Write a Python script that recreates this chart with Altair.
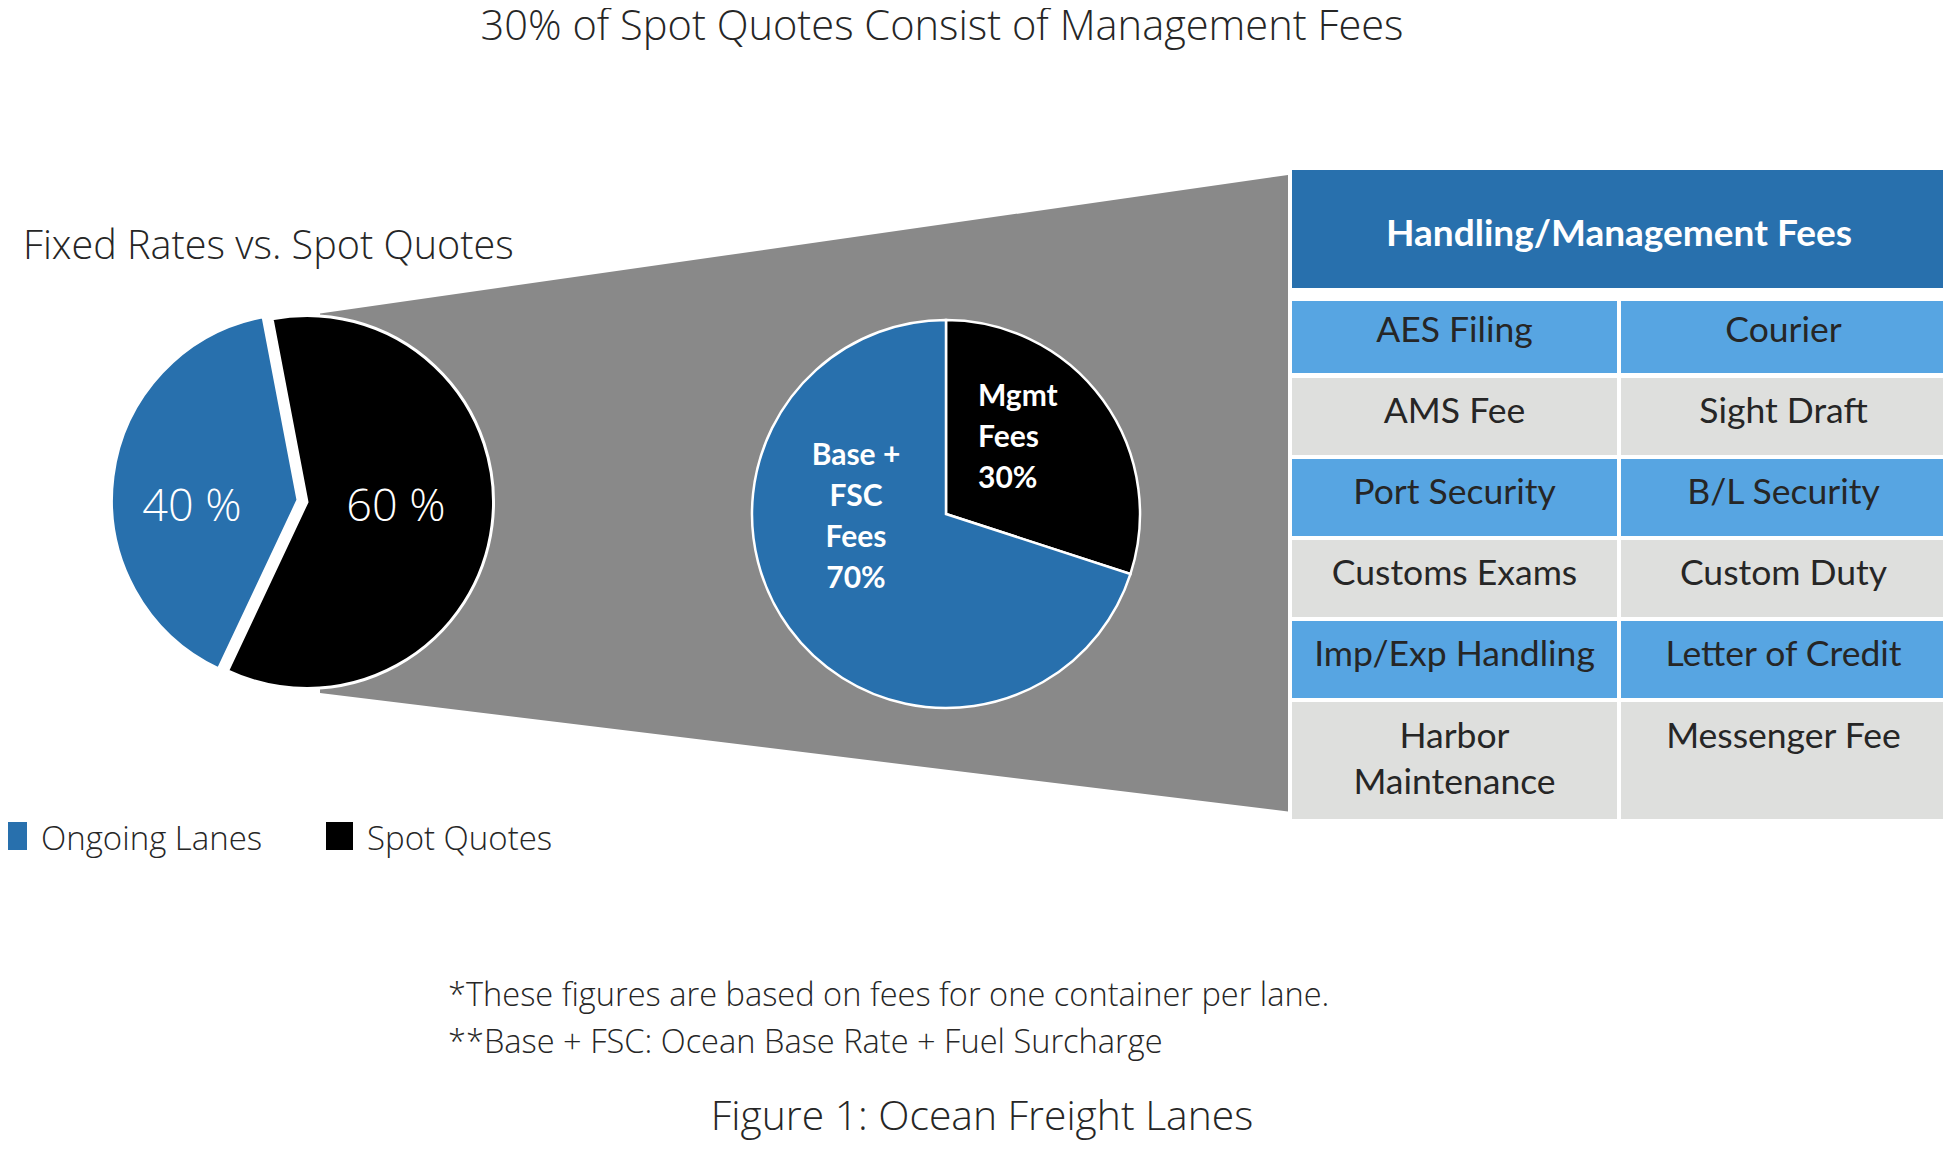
import altair as alt
import pandas as pd

# ---------------- data ----------------
title_text = "30% of Spot Quotes Consist of Management Fees"
pie1_title = "Fixed Rates vs. Spot Quotes"
pie1_cats = ["Spot Quotes", "Ongoing Lanes"]
pie1_vals = [60, 40]
pie1_text = ["60 %", "40 %"]
pie2_cats = ["Mgmt Fees", "Base + FSC Fees"]
pie2_vals = [30, 70]
pie2_text = ["Mgmt\nFees\n30%", "Base +\nFSC\nFees\n70%"]
table_title = "Handling/Management Fees"
table_col1 = ["AES Filing", "AMS Fee", "Port Security", "Customs Exams",
              "Imp/Exp Handling", "Harbor\nMaintenance"]
table_col2 = ["Courier", "Sight Draft", "B/L Security", "Custom Duty",
              "Letter of Credit", "Messenger Fee"]
legend_labels = ["Ongoing Lanes", "Spot Quotes"]
notes = ["*These figures are based on fees for one container per lane.",
         "**Base + FSC: Ocean Base Rate + Fuel Surcharge"]
caption = "Figure 1: Ocean Freight Lanes"

# ---------------- style / layout ----------------
W, H = 1935, 1135
M = 8


def px(v):
    return v - M


BLUE = "#2870AD"
BLACK = "#000000"
LBLUE = "#57A5E2"
LGREY = "#DEDFDD"
FUNNEL = "#898989"
TXT = "#262626"
THIN = "Open Sans"
THIN_W = 300
CAL = "Lato"

fill_domain = pie1_cats + pie2_cats + ["head", "blue", "grey"]
fill_range = [BLACK, BLUE, BLACK, BLUE, BLUE, LBLUE, LGREY]
fscale = alt.Scale(domain=fill_domain, range=fill_range)
xs = alt.Scale(domain=[0, W], range=[0, W], nice=False, zero=False)
ys = alt.Scale(domain=[0, H], range=[0, H], nice=False, zero=False)

layers = []

# funnel (decorative connector)
funnel = pd.DataFrame({"x": [px(320), px(1288)],
                       "y": [px(313.4), px(175)],
                       "y2": [px(693), px(811.5)]})
layers.append(alt.Chart(funnel).mark_area(color=FUNNEL, opacity=1).encode(
    x=alt.X("x:Q", scale=xs, axis=None),
    y=alt.Y("y:Q", scale=ys, axis=None),
    y2="y2:Q"))


def pie_base(vals, cats, start):
    df = pd.DataFrame({"cat": cats, "value": vals, "order": list(range(len(vals)))})
    return (alt.Chart(df)
            .transform_joinaggregate(total="sum(value)")
            .transform_window(cum="sum(value)", sort=[alt.SortField("order")], frame=[None, 0])
            .transform_calculate(t1=f"{start} + 2*PI*datum.cum/datum.total")
            .transform_calculate(t0="datum.t1 - 2*PI*datum.value/datum.total"))


# left pie (exploded slices)
S1 = -0.1885
R1 = 186.5
pie1_centers = {"Spot Quotes": (307, 502), "Ongoing Lanes": (298, 500)}
for cat in ["Ongoing Lanes", "Spot Quotes"]:
    cx, cy = pie1_centers[cat]
    layers.append(
        pie_base(pie1_vals, pie1_cats, S1)
        .transform_filter(alt.datum.cat == cat)
        .mark_arc(radius=R1, stroke="white", strokeWidth=3)
        .encode(theta=alt.Theta("t0:Q", scale=None), theta2=alt.Theta2("t1"),
                x=alt.value(px(cx)), y=alt.value(px(cy)),
                fill=alt.Fill("cat:N", scale=fscale, legend=None)))

# middle pie
layers.append(
    pie_base(pie2_vals, pie2_cats, 0)
    .mark_arc(radius=194, stroke="white", strokeWidth=2.5)
    .encode(theta=alt.Theta("t0:Q", scale=None), theta2=alt.Theta2("t1"),
            x=alt.value(px(946)), y=alt.value(px(514)),
            fill=alt.Fill("cat:N", scale=fscale, legend=None)))

# pie labels
lab1 = pd.DataFrame({"t": pie1_text, "x": [px(396), px(192)], "y": [px(521), px(521)]})
layers.append(alt.Chart(lab1).mark_text(font=THIN, fontWeight=THIN_W, fontSize=45, color="white",
                                        align="center", baseline="alphabetic").encode(
    x=alt.X("x:Q", scale=xs), y=alt.Y("y:Q", scale=ys), text="t:N"))

lab2 = pd.DataFrame({"t": pie2_text, "x": [px(978), px(856)], "y": [px(405.5), px(464.5)]})
for i, al in enumerate(["left", "center"]):
    layers.append(alt.Chart(lab2.iloc[[i]]).mark_text(
        font=CAL, fontWeight="bold", fontSize=30, color="white", align=al,
        baseline="alphabetic", lineBreak="\n", lineHeight=41).encode(
        x=alt.X("x:Q", scale=xs), y=alt.Y("y:Q", scale=ys), text="t:N"))

# table
TX0, TXM1, TXM2, TX1 = 1292, 1617, 1621, 1946
row_tops = [301, 378, 459, 540, 621, 702]
row_bots = [373, 455, 536, 617, 698, 819]
row_base = [342, 423, 504, 585, 666, 747.5]
cells = []
for i, (a, b) in enumerate(zip(table_col1, table_col2)):
    kind = "blue" if i % 2 == 0 else "grey"
    cells.append({"t": a, "x0": px(TX0), "x1": px(TXM1), "y0": px(row_tops[i]), "y1": px(row_bots[i]),
                  "xc": px((TX0 + TXM1) / 2), "yb": px(row_base[i]), "kind": kind})
    cells.append({"t": b, "x0": px(TXM2), "x1": px(TX1), "y0": px(row_tops[i]), "y1": px(row_bots[i]),
                  "xc": px((TXM2 + TX1) / 2), "yb": px(row_base[i]), "kind": kind})
cells.append({"t": table_title, "x0": px(TX0), "x1": px(TX1), "y0": px(170), "y1": px(288),
              "xc": px((TX0 + TX1) / 2), "yb": px(245.5), "kind": "head"})
cells = pd.DataFrame(cells)
layers.append(alt.Chart(cells).mark_rect().encode(
    x=alt.X("x0:Q", scale=xs), x2="x1:Q", y=alt.Y("y0:Q", scale=ys), y2="y1:Q",
    fill=alt.Fill("kind:N", scale=fscale, legend=None)))
layers.append(alt.Chart(cells).transform_filter(alt.datum.kind != "head").mark_text(
    font=CAL, fontSize=35.5, color=TXT, align="center", baseline="alphabetic",
    lineBreak="\n", lineHeight=46.5).encode(
    x=alt.X("xc:Q", scale=xs), y=alt.Y("yb:Q", scale=ys), text="t:N"))
layers.append(alt.Chart(cells).transform_filter(alt.datum.kind == "head").mark_text(
    font=CAL, fontSize=37, fontWeight="bold", color="white", align="center",
    baseline="alphabetic").encode(
    x=alt.X("xc:Q", scale=xs), y=alt.Y("yb:Q", scale=ys), text="t:N"))

# legend
leg = pd.DataFrame({"label": legend_labels,
                    "cat": ["Ongoing Lanes", "Spot Quotes"],
                    "x0": [px(0), px(326)], "x1": [px(27), px(353)],
                    "tx": [px(41), px(367)]})
layers.append(alt.Chart(leg).mark_rect().encode(
    x=alt.X("x0:Q", scale=xs), x2="x1:Q",
    y=alt.value(px(822)), y2=alt.value(px(850)),
    fill=alt.Fill("cat:N", scale=fscale, legend=None)))
layers.append(alt.Chart(leg).mark_text(font=THIN, fontWeight=THIN_W, fontSize=33, color=TXT, align="left",
                                       baseline="alphabetic").encode(
    x=alt.X("tx:Q", scale=xs), y=alt.value(px(850)), text="label:N"))

# titles & notes
texts = pd.DataFrame({
    "t": [title_text, pie1_title, notes[0], notes[1], caption],
    "x": [px(942), px(23), px(448), px(448), px(982)],
    "y": [px(40), px(259), px(1006), px(1053), px(1130)],
    "size": [41.6, 39.6, 32.6, 32.6, 40.8],
    "al": ["center", "left", "left", "left", "center"],
})
for i in range(len(texts)):
    row = texts.iloc[[i]]
    layers.append(alt.Chart(row).mark_text(
        font=THIN, fontWeight=THIN_W, fontSize=float(row["size"].iloc[0]), color=TXT,
        align=row["al"].iloc[0], baseline="alphabetic").encode(
        x=alt.X("x:Q", scale=xs), y=alt.Y("y:Q", scale=ys), text="t:N"))

chart = alt.layer(*layers).properties(
    width=W, height=H, autosize=alt.AutoSizeParams(type="none"), padding=0,
    background="white"
).configure_view(stroke=None).configure_axis(disable=True)

chart.save("out.html", embed_options={"renderer": "svg", "actions": False})
